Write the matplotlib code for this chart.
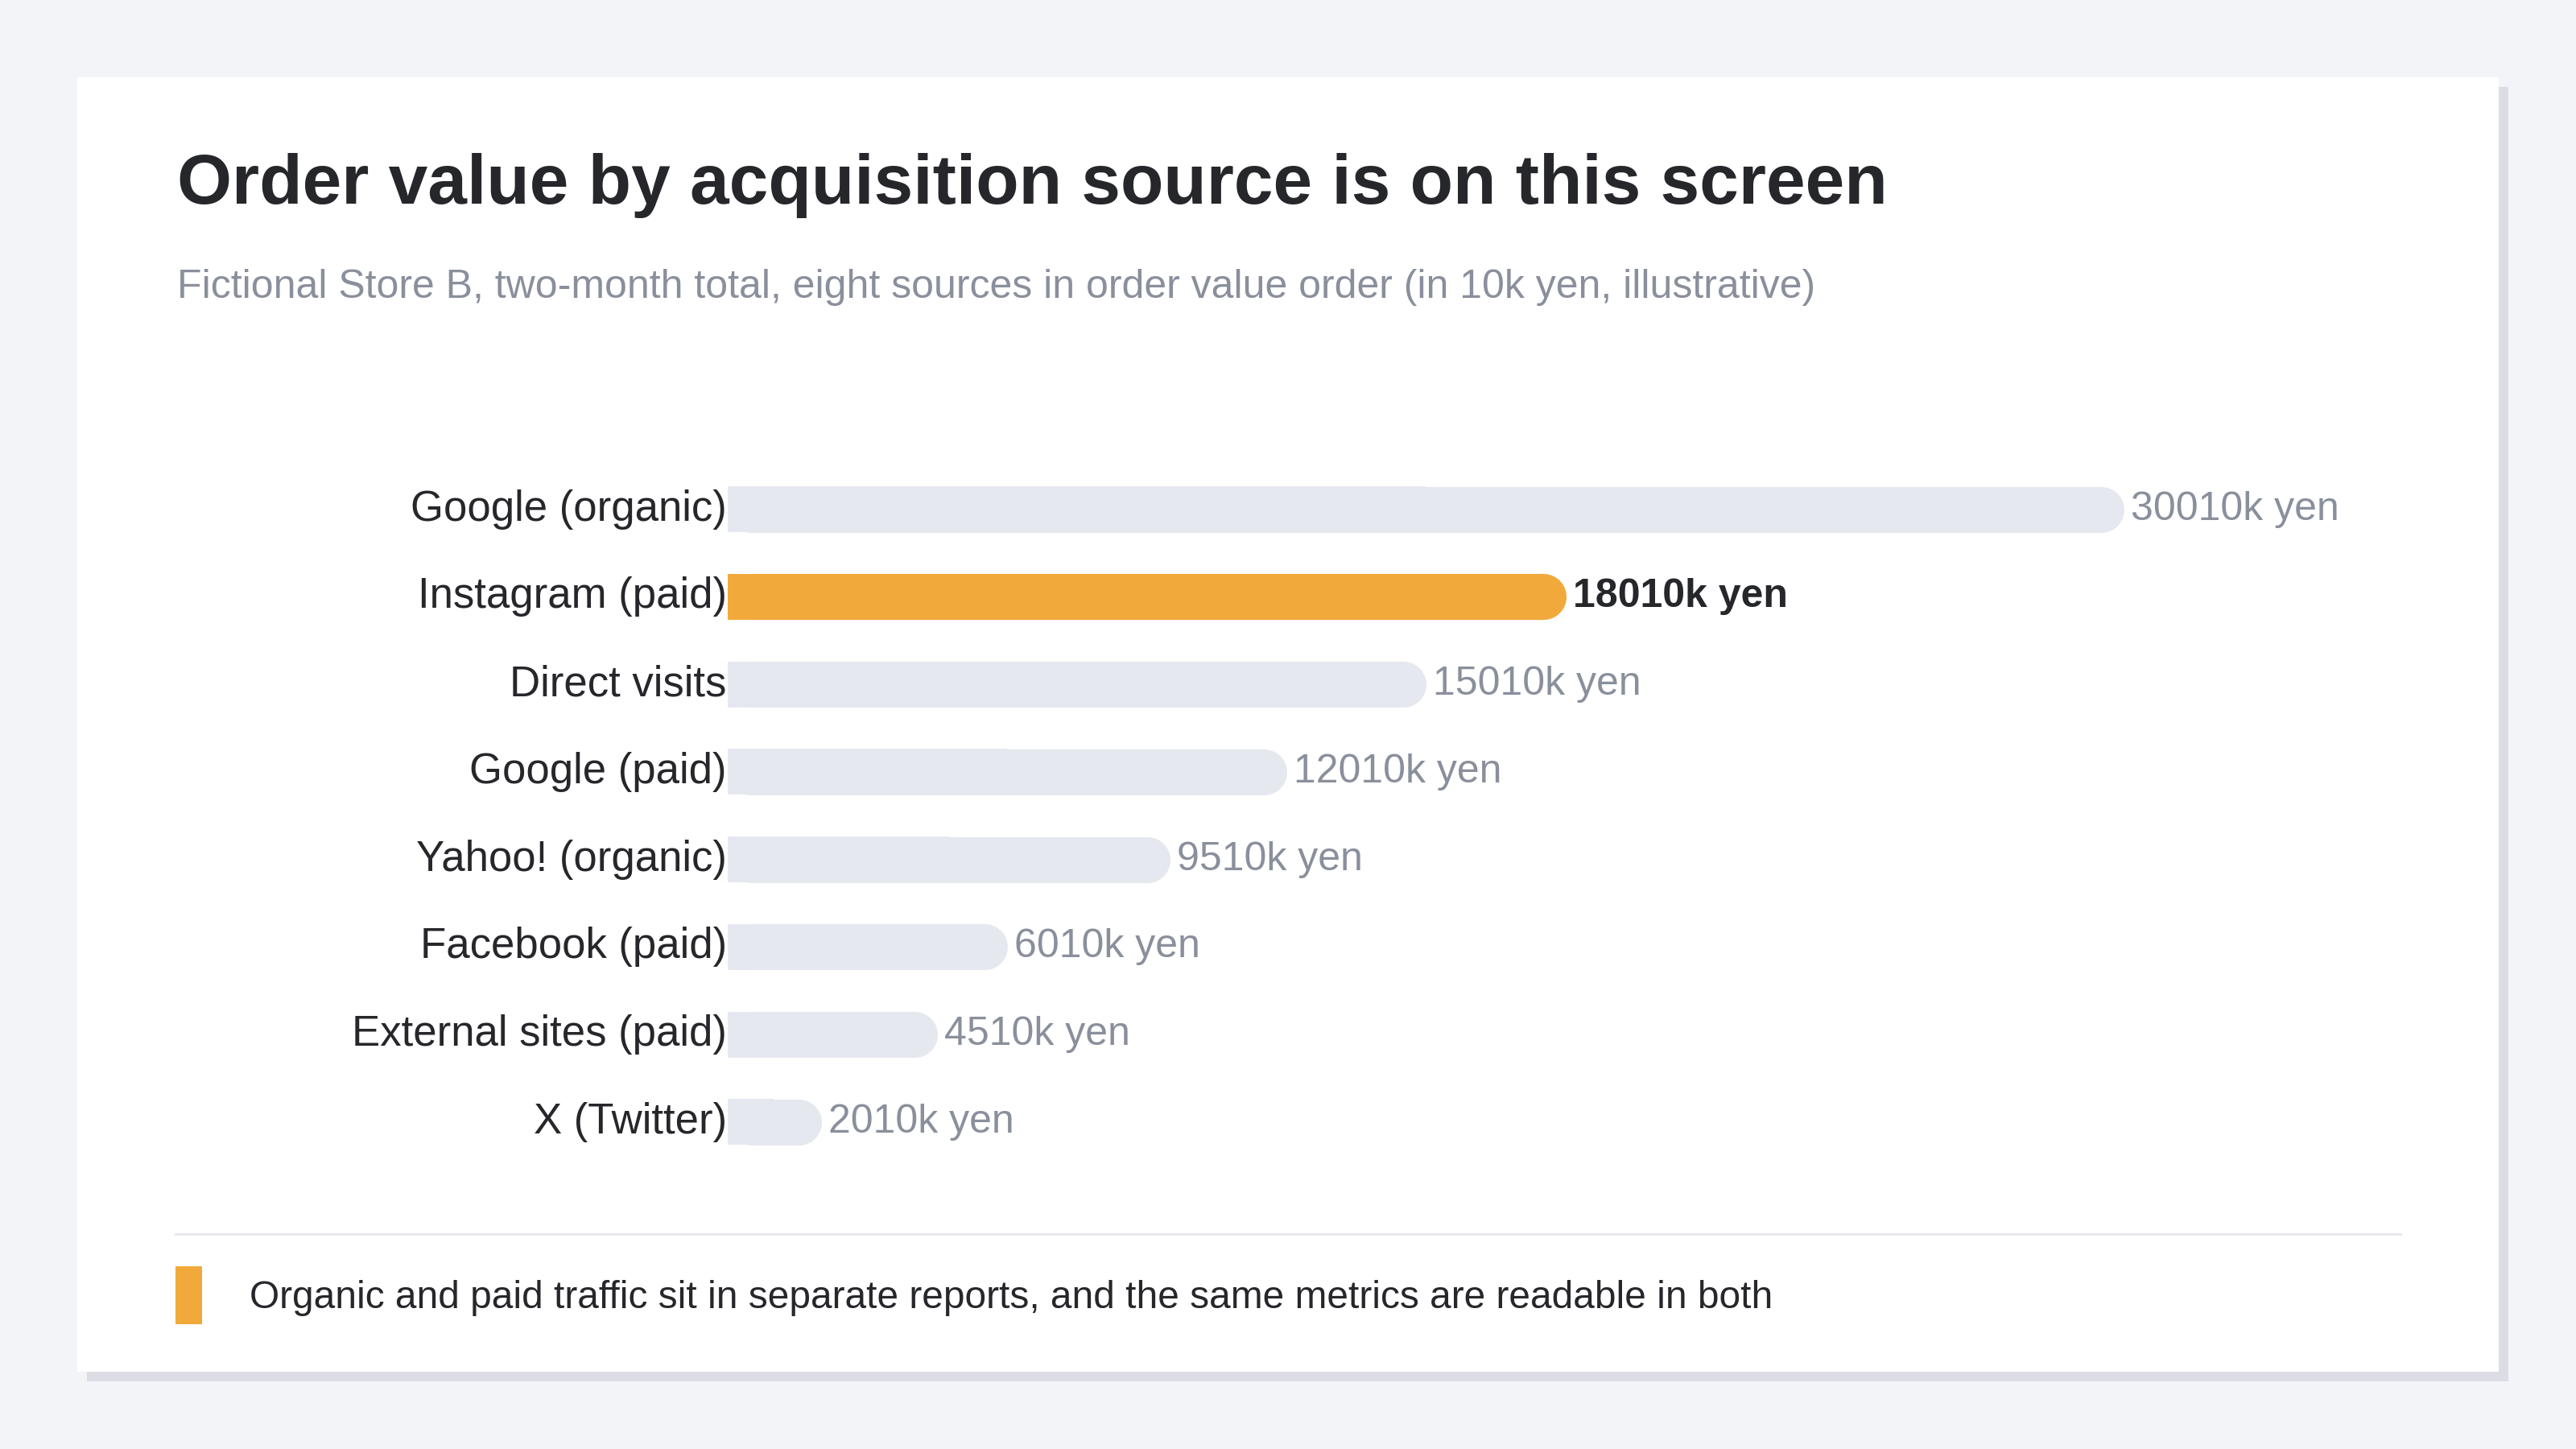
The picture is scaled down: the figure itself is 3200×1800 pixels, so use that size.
import matplotlib
matplotlib.use("Agg")
import matplotlib.pyplot as plt
from matplotlib.patches import Rectangle

categories = ["Google (organic)", "Instagram (paid)", "Direct visits", "Google (paid)",
              "Yahoo! (organic)", "Facebook (paid)", "External sites (paid)", "X (Twitter)"]
values = [30010, 18010, 15010, 12010, 9510, 6010, 4510, 2010]
value_labels = ["30010k yen", "18010k yen", "15010k yen", "12010k yen",
                "9510k yen", "6010k yen", "4510k yen", "2010k yen"]
highlight = "Instagram (paid)"

W, H = 1568, 882
plt.rcParams['font.family'] = ['Liberation Sans', 'DejaVu Sans']
fig = plt.figure(figsize=(32, 18), dpi=100)
fig.patch.set_facecolor("#f3f4f8")

def fx(x): return x / W
def fy(y): return 1 - y / H

# card with shadow
fig.patches.append(Rectangle((fx(53), fy(841)), fx(1474), 788 / H, transform=fig.transFigure,
                             facecolor="#dcdde4", edgecolor="none", zorder=-2))
fig.patches.append(Rectangle((fx(47), fy(835)), fx(1474), 788 / H, transform=fig.transFigure,
                             facecolor="white", edgecolor="none", zorder=-1))

fig.text(fx(108), fy(113), "Order value by acquisition source is on this screen",
         fontsize=63, fontweight="bold", color="#26272b", va="center", ha="left")
fig.text(fx(108), fy(175), "Fictional Store B, two-month total, eight sources in order value order (in 10k yen, illustrative)",
         fontsize=36, color="#8a8f9c", va="center", ha="left")

left, right = fx(443), fx(1500)
top, bottom = fy(283.35), fy(709.65)
ax = fig.add_axes([left, bottom, right - left, top - bottom])
ax.set_facecolor("none")
ax.set_zorder(1)
for s in ax.spines.values():
    s.set_visible(False)
ax.set_xticks([]); ax.set_yticks([])
xmax = 30010 * (1500 - 443) / (1293 - 443)
ax.set_xlim(0, xmax)
ax.set_ylim(len(values) - 0.5, -0.5)

axw_px = (right - left) * 3200
bar_px = 28 * 3200 / W
r = (bar_px / 2) * xmax / axw_px
lw = bar_px * 72 / 100
for i, (c, v, lab) in enumerate(zip(categories, values, value_labels)):
    hl = c == highlight
    col = "#f2a93b" if hl else "#e6e8f0"
    ax.barh(i, v / 2, height=28 / 53.3, left=0, color=col, edgecolor="none", zorder=2)
    ax.plot([r, v - r], [i, i], color=col, lw=lw, solid_capstyle="round", zorder=2)
    ax.text(v + r * 0.3, i, lab, va="center", ha="left", fontsize=36,
            color="#26272b" if hl else "#8a8f9c", fontweight="bold" if hl else "normal")
    ax.text(-r * 0.05, i, c, va="center", ha="right", fontsize=38, color="#26272b")

# footer
fig.add_artist(plt.Line2D([fx(107), fx(1461)], [fy(751), fy(751)], transform=fig.transFigure,
                          color="#e5e7eb", lw=2))
fig.patches.append(Rectangle((fx(107), fy(806)), fx(16), 35 / H, transform=fig.transFigure,
                             facecolor="#f2a93b", edgecolor="none"))
fig.text(fx(152), fy(790), "Organic and paid traffic sit in separate reports, and the same metrics are readable in both",
         fontsize=34.5, color="#26272b", va="center", ha="left")

fig.savefig("out.png", dpi=100, facecolor=fig.get_facecolor())
